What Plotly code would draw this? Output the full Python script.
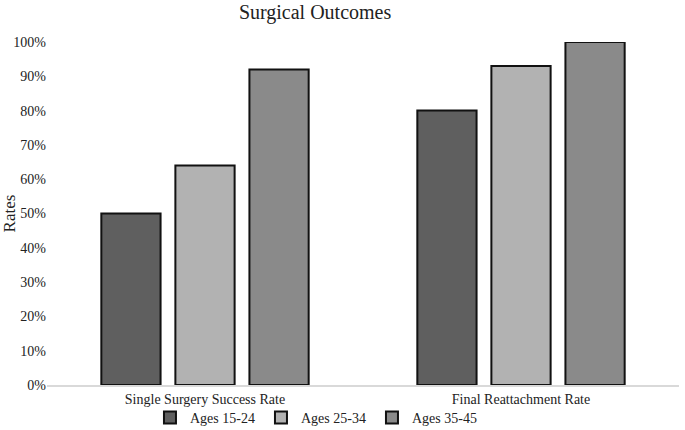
import plotly.graph_objects as go

categories = ["Single Surgery Success Rate", "Final Reattachment Rate"]
series_names = ["Ages 15-24", "Ages 25-34", "Ages 35-45"]
ages_15_24 = [0.50, 0.80]
ages_25_34 = [0.64, 0.93]
ages_35_45 = [0.92, 1.00]
y_ticks = [i / 10 for i in range(11)]

COLORS = ["#5f5f5f", "#b2b2b2", "#8a8a8a"]
FONT = "Liberation Serif, Times New Roman, serif"

fig = go.Figure()
for name, values, color in zip(series_names, [ages_15_24, ages_25_34, ages_35_45], COLORS):
    fig.add_trace(
        go.Bar(
            name=name,
            x=categories,
            y=values,
            marker={"color": color, "line": {"color": "#111111", "width": 2}},
        )
    )

fig.update_layout(
    width=685,
    height=430,
    margin={"l": 47, "r": 6, "t": 42, "b": 45},
    paper_bgcolor="white",
    plot_bgcolor="white",
    font={"family": FONT, "size": 14, "color": "#222222"},
    title={
        "text": "Surgical Outcomes",
        "x": 0.46,
        "xanchor": "center",
        "y": 0.972,
        "yanchor": "middle",
        "font": {"size": 20, "family": FONT, "color": "#222222"},
    },
    barmode="group",
    bargap=0.297,
    bargroupgap=0.2,
    showlegend=True,
    legend={
        "orientation": "h",
        "x": 0.462,
        "xanchor": "center",
        "xref": "container",
        "y": 0.028,
        "yanchor": "middle",
        "yref": "container",
        "bgcolor": "rgba(0,0,0,0)",
        "font": {"size": 14, "family": FONT},
        "itemwidth": 30,
        "entrywidth": 66,
        "entrywidthmode": "pixels",
        "tracegroupgap": 0,
    },
    xaxis={
        "automargin": False,
        "showgrid": False,
        "showline": True,
        "linecolor": "#d9d9d9",
        "linewidth": 1.5,
        "ticks": "",
        "tickfont": {"size": 14},
    },
    yaxis={
        "automargin": False,
        "range": [0, 1.0],
        "tickvals": y_ticks,
        "tickformat": ".0%",
        "showgrid": False,
        "zeroline": False,
        "ticks": "",
        "ticklabelstandoff": 0,
        "title": {"text": "Rates", "font": {"size": 17}, "standoff": 0},
        "tickfont": {"size": 14},
    },
)

# the page's default body margin would push the figure 8px off the window
fig.write_html(
    "out.html",
    config={"displayModeBar": False},
    post_script="document.body.style.margin = '0';",
)
